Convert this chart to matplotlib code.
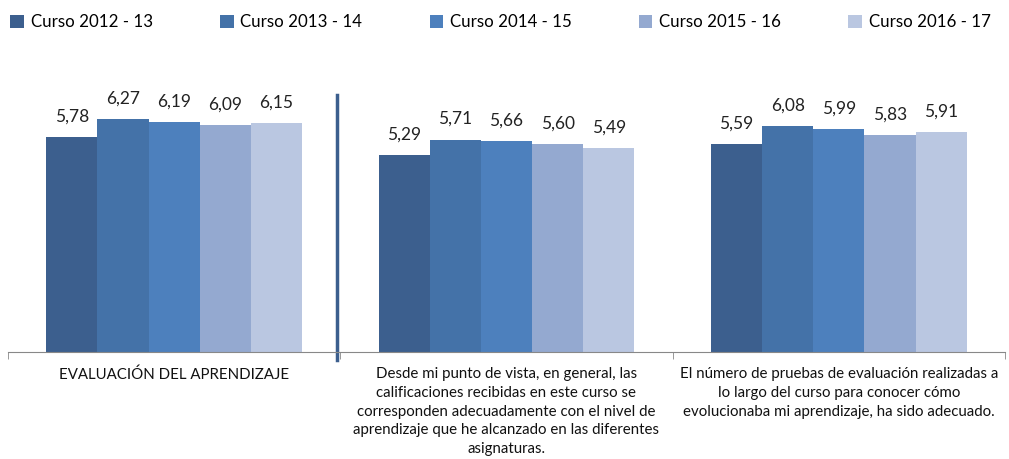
import numpy as np
import matplotlib
matplotlib.use('Agg')
import matplotlib.pyplot as plt
from matplotlib.patches import Patch

plt.rcParams['font.family'] = ['Lato', 'DejaVu Sans']

series = ['Curso 2012 - 13', 'Curso 2013 - 14', 'Curso 2014 - 15',
          'Curso 2015 - 16', 'Curso 2016 - 17']
categories = [
    'EVALUACIÓN DEL APRENDIZAJE',
    'Desde mi punto de vista, en general, las\n'
    'calificaciones recibidas en este curso se\n'
    'corresponden adecuadamente con el nivel de\n'
    'aprendizaje que he alcanzado en las diferentes\n'
    'asignaturas.',
    'El número de pruebas de evaluación realizadas a\n'
    'lo largo del curso para conocer cómo\n'
    'evolucionaba mi aprendizaje, ha sido adecuado.',
]
values = [
    [5.78, 5.29, 5.59],
    [6.27, 5.71, 6.08],
    [6.19, 5.66, 5.99],
    [6.09, 5.60, 5.83],
    [6.15, 5.49, 5.91],
]
colors = ['#3C5F8E', '#4472A8', '#4D80BD', '#94A9D0', '#BAC7E1']


def main():
    fig = plt.figure(figsize=(10.09, 4.59), dpi=100)
    ax = fig.add_axes([8 / 1009, 107 / 459, 997 / 1009, 292 / 459])

    x = np.arange(len(categories))
    w = 0.154
    for i, (name, vals) in enumerate(zip(series, values)):
        pos = x + (i - 2) * w
        ax.bar(pos, vals, width=w, color=colors[i], label=name)
        for p, v in zip(pos, vals):
            ax.annotate(f'{v:.2f}'.replace('.', ','), (p, v),
                        xytext=(0, 9), textcoords='offset points',
                        ha='center', va='bottom', fontsize=12.5, color='#222222')

    ax.set_xlim(-0.5, 2.5)
    ax.set_ylim(0, 292 / 37.2)
    ax.set_yticks([])
    for s in ['top', 'right', 'left']:
        ax.spines[s].set_visible(False)
    ax.spines['bottom'].set_color('#888888')

    ax.set_xticks(x)
    ax.set_xticklabels(categories, fontsize=10.8, color='#111111',
                       linespacing=1.42, va='top')
    ax.tick_params(axis='x', which='major', length=0, pad=11)
    ax.set_xticks([-0.5, 0.5, 1.5, 2.5], minor=True)
    ax.tick_params(axis='x', which='minor', length=5, color='#888888')

    # divider between first group and the rest
    ax.plot([0.49, 0.49], [-0.22, (352 - 95) / 37.2], color='#3C5F8E',
            lw=2.5, clip_on=False)

    handles = [Patch(facecolor=c) for c in colors]
    fig.legend(handles, series, loc='upper left', ncol=5,
               bbox_to_anchor=(-0.004, 1.0, 1.0, 0.0), mode='expand',
               frameon=False, fontsize=12.2, handlelength=0.8,
               handleheight=0.8, handletextpad=0.4, borderaxespad=0.45)

    fig.savefig('out.png', dpi=100)


if __name__ == '__main__':
    main()
